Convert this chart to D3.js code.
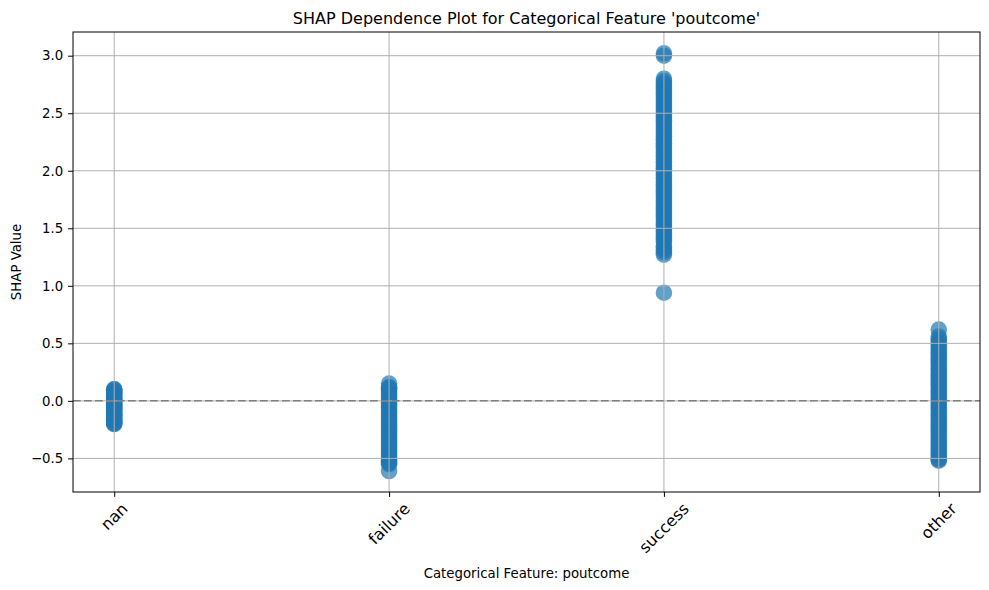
<!DOCTYPE html>
<html><head><meta charset="utf-8">
<script src="https://cdn.jsdelivr.net/npm/d3@7"></script>
<style>body{margin:0;background:#fff;}text{font-family:"DejaVu Sans",sans-serif;}</style>
</head><body><svg id="c" width="989" height="590"></svg>
<script>
const categories = ["nan", "failure", "success", "other"];
const nanValues = [-0.2, -0.2, -0.19, -0.18, -0.17, -0.16, -0.15, -0.14, -0.13, -0.12, -0.11, -0.1, -0.09, -0.08, -0.07, -0.06, -0.05, -0.04, -0.03, -0.02, -0.01, 0.0, 0.01, 0.02, 0.03, 0.04, 0.05, 0.06, 0.07, 0.08, 0.09, 0.1, 0.1];
const failureValues = [-0.61, -0.55, -0.54, -0.53, -0.52, -0.5, -0.48, -0.46, -0.44, -0.42, -0.4, -0.38, -0.36, -0.34, -0.32, -0.3, -0.28, -0.26, -0.24, -0.22, -0.2, -0.18, -0.16, -0.14, -0.12, -0.1, -0.08, -0.06, -0.04, -0.02, 0.0, 0.02, 0.04, 0.06, 0.08, 0.1, 0.11, 0.12, 0.15];
const successValues = [0.94, 1.27, 1.29, 1.31, 1.33, 1.35, 1.38, 1.4, 1.42, 1.44, 1.46, 1.48, 1.5, 1.52, 1.54, 1.56, 1.58, 1.6, 1.62, 1.64, 1.66, 1.68, 1.7, 1.72, 1.74, 1.76, 1.78, 1.8, 1.82, 1.84, 1.86, 1.88, 1.9, 1.92, 1.94, 1.96, 1.98, 2.0, 2.02, 2.04, 2.06, 2.08, 2.1, 2.12, 2.14, 2.16, 2.18, 2.2, 2.22, 2.24, 2.26, 2.28, 2.3, 2.32, 2.34, 2.36, 2.38, 2.4, 2.42, 2.44, 2.46, 2.48, 2.5, 2.52, 2.54, 2.56, 2.58, 2.6, 2.62, 2.64, 2.66, 2.68, 2.7, 2.72, 2.74, 2.76, 2.78, 2.8, 3.0, 3.02];
const otherValues = [-0.52, -0.51, -0.5, -0.48, -0.46, -0.44, -0.42, -0.4, -0.38, -0.36, -0.34, -0.32, -0.3, -0.28, -0.26, -0.24, -0.22, -0.2, -0.18, -0.16, -0.14, -0.12, -0.1, -0.08, -0.06, -0.04, -0.02, 0.0, 0.02, 0.04, 0.06, 0.08, 0.1, 0.12, 0.14, 0.16, 0.18, 0.2, 0.22, 0.24, 0.26, 0.28, 0.3, 0.32, 0.34, 0.36, 0.38, 0.4, 0.42, 0.44, 0.46, 0.48, 0.5, 0.52, 0.54, 0.56, 0.62];
const yTicks = [-0.5, 0.0, 0.5, 1.0, 1.5, 2.0, 2.5, 3.0];
const seriesValues = [nanValues, failureValues, successValues, otherValues];

const svg = d3.select("#c");
const L = 73, R = 980, T = 32, B = 492;
const x = d3.scaleLinear().domain([-0.15, 3.15]).range([L, R]);
const y = d3.scaleLinear().domain([-0.792, 3.206]).range([B, T]);

// points
const pts = [];
seriesValues.forEach((vals, i) => vals.forEach(v => pts.push({i, v})));
svg.append("g").selectAll("circle").data(pts).join("circle")
  .attr("cx", d => x(d.i)).attr("cy", d => y(d.v)).attr("r", 8.3)
  .attr("fill", "#1f77b4").attr("fill-opacity", 0.7);

// grid (drawn above the scatter, as in matplotlib)
const g = svg.append("g");
g.selectAll(".gx").data(categories).join("line")
  .attr("x1", (d, i) => x(i)).attr("x2", (d, i) => x(i)).attr("y1", T).attr("y2", B)
  .attr("stroke", "#b0b0b0").attr("stroke-width", 1);
g.selectAll(".gy").data(yTicks).join("line")
  .attr("x1", L).attr("x2", R).attr("y1", d => y(d)).attr("y2", d => y(d))
  .attr("stroke", "#b0b0b0").attr("stroke-width", 1);

// zero line
svg.append("line").attr("x1", L).attr("x2", R).attr("y1", y(0)).attr("y2", y(0))
  .attr("stroke", "#808080").attr("stroke-width", 1.5).attr("stroke-dasharray", "7.7,3.3");

// axes frame
svg.append("rect").attr("x", L).attr("y", T).attr("width", R - L).attr("height", B - T)
  .attr("fill", "none").attr("stroke", "#000").attr("stroke-width", 1);

// y axis
const ya = svg.append("g").attr("transform", `translate(${L},0)`)
  .call(d3.axisLeft(y).tickValues(yTicks).tickFormat(d => d3.format(".1f")(d).replace("-", "\u2212")).tickSize(4.9).tickPadding(4.9));
ya.select(".domain").remove();
ya.selectAll("text").attr("font-size", 13.3).attr("fill", "#000").attr("font-family", "DejaVu Sans");
ya.selectAll("line").attr("stroke", "#000");

// x axis
const xa = svg.append("g").attr("transform", `translate(0,${B})`)
  .call(d3.axisBottom(x).tickValues([0, 1, 2, 3]).tickFormat("").tickSize(4.9));
xa.select(".domain").remove();
xa.selectAll("line").attr("stroke", "#000");

categories.forEach((c, i) => {
  const t = svg.append("text").text(c).attr("font-size", 16)
    .attr("text-anchor", "middle").attr("dominant-baseline", "central");
  const w = t.node().getComputedTextLength();
  const h = 14;
  const bh = (w + h) / Math.SQRT2;
  const cy = B + 4.9 + 4 + bh / 2;
  t.attr("transform", `translate(${x(i)},${cy}) rotate(-45)`);
});

// labels
svg.append("text").attr("x", (L + R) / 2).attr("y", 578).attr("text-anchor", "middle")
  .attr("font-size", 13.3).text("Categorical Feature: poutcome");
svg.append("text").attr("transform", `translate(21,${(T + B) / 2}) rotate(-90)`).attr("text-anchor", "middle")
  .attr("font-size", 13.3).text("SHAP Value");
svg.append("text").attr("x", (L + R) / 2).attr("y", 24).attr("text-anchor", "middle")
  .attr("font-size", 16).text("SHAP Dependence Plot for Categorical Feature 'poutcome'");
</script></body></html>
